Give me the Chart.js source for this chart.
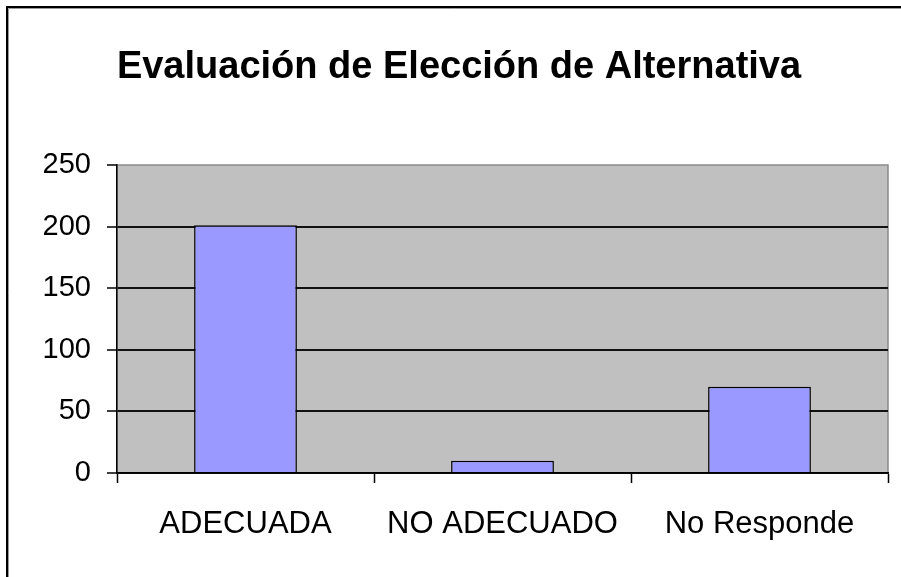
<!DOCTYPE html>
<html>
<head>
<meta charset="utf-8">
<script src="https://cdn.jsdelivr.net/npm/chart.js@4"></script>
<style>
  body { margin: 0; background: #fff; }
  canvas { display: block; }
</style>
</head>
<body>
<canvas id="chart" width="901" height="577"></canvas>
<script>
// data
const categories = ['ADECUADA', 'NO ADECUADO', 'No Responde'];
const values = [201, 10, 70];
const yTicks = [0, 50, 100, 150, 200, 250];

// gray plot background + outer frame like the Excel chart
const excelLook = {
    id: 'excelLook',
    beforeDraw(chart) {
        const ctx = chart.ctx;
        const a = chart.chartArea;
        ctx.save();
        ctx.fillStyle = '#fff';
        ctx.fillRect(0, 0, chart.width, chart.height);
        ctx.fillStyle = '#C0C0C0';
        ctx.fillRect(a.left, a.top, a.right - a.left, a.bottom - a.top);
        ctx.strokeStyle = '#8a8a8a';
        ctx.lineWidth = 1.5;
        ctx.strokeRect(a.left, a.top, a.right - a.left, a.bottom - a.top);
        // outer frame (left and top only, picture is cropped)
        ctx.strokeStyle = '#000';
        ctx.lineWidth = 2;
        ctx.beginPath();
        ctx.moveTo(7, chart.height);
        ctx.lineTo(7, 7);
        ctx.lineTo(chart.width, 7);
        ctx.stroke();
        ctx.strokeStyle = '#999';
        ctx.lineWidth = 1;
        ctx.beginPath();
        ctx.moveTo(8.5, chart.height);
        ctx.lineTo(8.5, 8.5);
        ctx.lineTo(chart.width, 8.5);
        ctx.stroke();
        ctx.restore();
    }
};

new Chart(document.getElementById('chart'), {
    type: 'bar',
    data: {
        labels: categories,
        datasets: [{
            data: values,
            backgroundColor: '#9999FF',
            borderColor: '#000',
            borderWidth: 1.5,
            barPercentage: 0.4,
            categoryPercentage: 1
        }]
    },
    options: {
        responsive: false,
        animation: false,
        layout: { padding: { left: 30, right: 13, top: 0, bottom: 0 } },
        plugins: {
            legend: { display: false },
            tooltip: { enabled: false },
            title: {
                display: true,
                text: 'Evaluación de Elección de Alternativa',
                color: '#000',
                font: { family: 'Liberation Sans, Arial, sans-serif', size: 38, weight: 'bold' },
                padding: { top: 45, bottom: 74.4 }
            }
        },
        scales: {
            x: {
                offset: true,
                grid: {
                    offset: true,
                    drawOnChartArea: false,
                    drawTicks: true,
                    tickLength: 10,
                    tickColor: '#000',
                    tickWidth: 1.5
                },
                border: { display: true, color: '#000', width: 1.5 },
                ticks: {
                    color: '#000',
                    padding: 23,
                    maxRotation: 0,
                    font: { family: 'Liberation Sans, Arial, sans-serif', size: 31 }
                },
                afterFit: s => { s.height = 104; }
            },
            y: {
                min: 0,
                max: 250,
                afterBuildTicks: s => { s.ticks = yTicks.map(v => ({ value: v })); },
                grid: {
                    color: c => (c.tick && c.tick.value === 250) ? 'rgba(0,0,0,0)' : '#111',
                    lineWidth: 2,
                    tickLength: 10,
                    tickColor: '#000',
                    tickWidth: 1.5
                },
                border: { display: true, color: '#000', width: 1.5 },
                ticks: {
                    color: '#000',
                    padding: 16,
                    font: { family: 'Liberation Sans, Arial, sans-serif', size: 29 }
                },
                afterFit: s => { s.width = 87; }
            }
        }
    },
    plugins: [excelLook]
});
</script>
</body>
</html>
